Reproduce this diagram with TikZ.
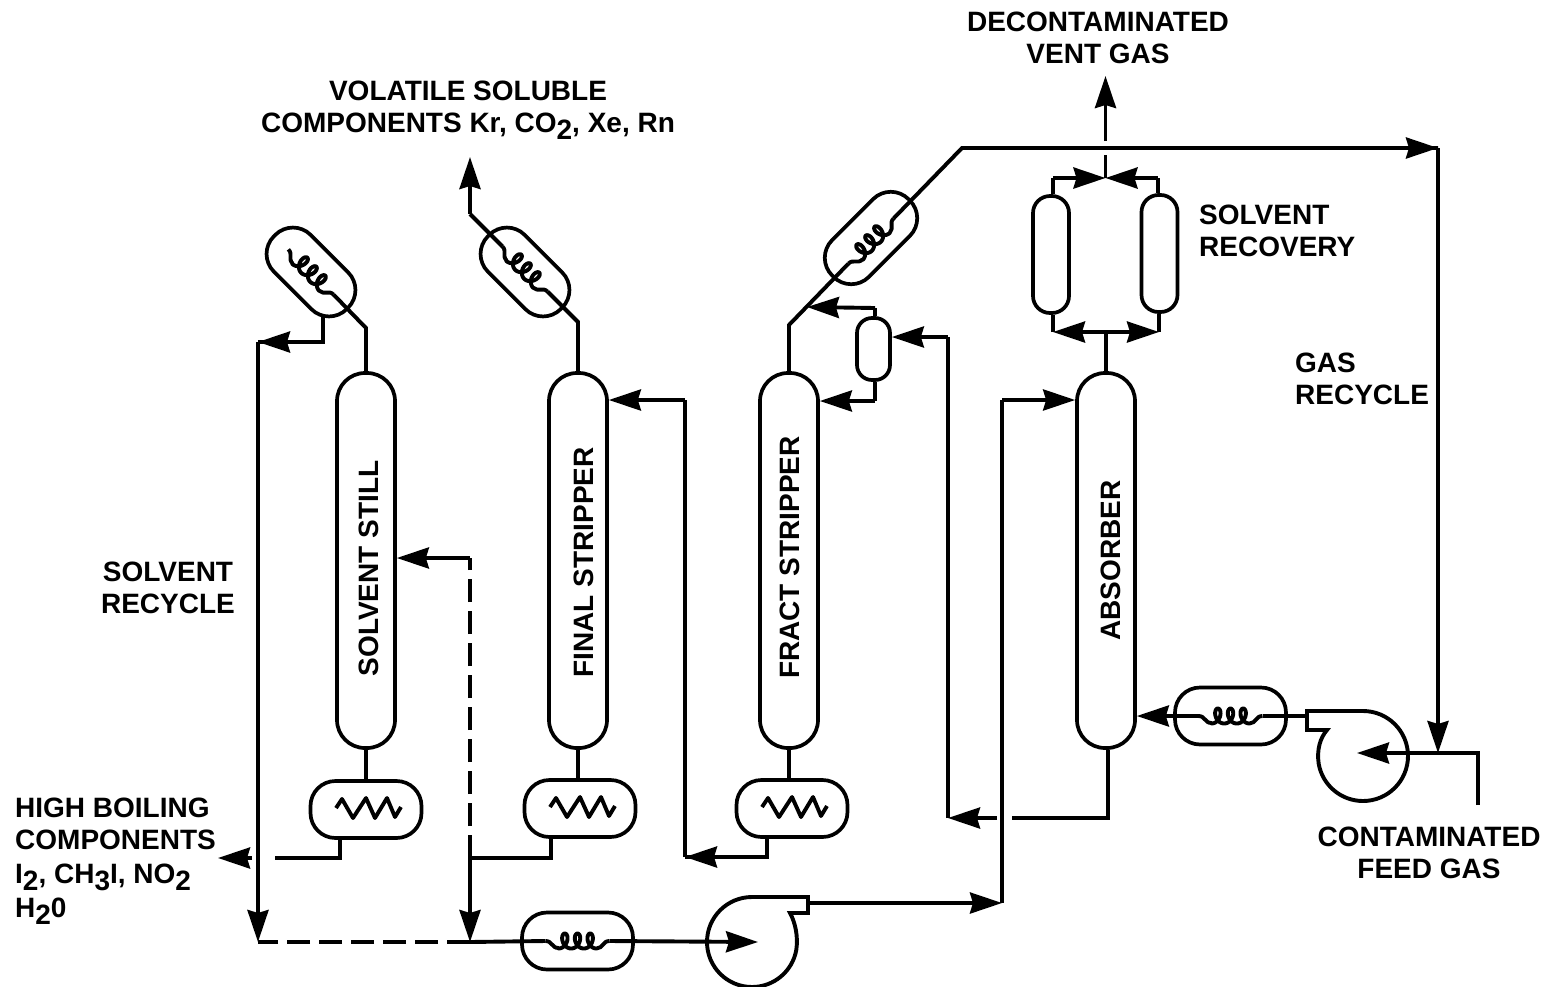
\documentclass[tikz,border=0pt]{standalone}
\usepackage{fontspec}
\setmainfont{Liberation Sans}
\usetikzlibrary{arrows.meta}
\newcommand{\lowd}[1]{\raisebox{-7pt}{#1}}
\newcommand{\collab}[3]{\hspace*{#1}\raisebox{\dimexpr#2-0.5\height\relax}[0pt][0pt]{\rotatebox{90}{#3}}}
\tikzset{
  pipe/.style={line width=3.9pt,line join=miter,miter limit=4},
  flow/.style={pipe,-{Stealth[length=32pt,width=21pt,inset=3pt]}},
  dashpipe/.style={pipe,dash pattern=on 23pt off 9pt},
  vessel/.style={draw,line width=3.7pt,inner sep=0pt,rectangle},
  column/.style={vessel,minimum width=58pt,minimum height=375pt,rounded corners=28pt},
  drum/.style={vessel,minimum width=36pt,minimum height=117pt,rounded corners=17pt},
  exch/.style={vessel,minimum width=111pt,minimum height=57pt,rounded corners=25pt},
  cond/.style={vessel,minimum width=103pt,minimum height=52pt,rounded corners=25pt},
  lab/.style={font=\fontsize{28}{32}\selectfont\bfseries,inner sep=0pt,align=center},
  collabel/.style={font=\fontsize{28}{32}\selectfont\bfseries},
  coilpic/.pic={
    \coordinate (-in) at (-32,0);
    \coordinate (-out) at (32,0);
    \draw[pipe,line join=round] (-32,0) .. controls (-25,0) and (-26,7) .. (-19,7)
      -- plot[domain=0:1080,samples=145] ({\x/360*12.67-19+5.5*sin(\x)},{0+7.5*cos(\x)})
      .. controls (26,7) and (25,0) .. (32,0);
  },
  zigpic/.pic={
    \draw[pipe,line join=round] (-30,-1) -- (-24,-10) -- (-13,9) -- (0,-11) -- (9,9) -- (21,-11) -- (29,8) -- (35,-2);
  }
}
\begin{document}
\begin{tikzpicture}[x=1pt,y=-1pt]
\useasboundingbox (0,0) rectangle (1559,986);

% columns
\node[column,collabel] (ss) at (366,560.5) {\collab{6pt}{-8pt}{SOLVENT STILL}};
\node[column,collabel] (fs) at (578,560.5) {\collab{12pt}{-2pt}{FINAL STRIPPER}};
\node[column,collabel] (fr) at (789,560.5) {\collab{2pt}{3pt}{FRACT STRIPPER}};
\node[column,collabel] (ab) at (1106,560.5) {\collab{10pt}{0pt}{ABSORBER}};

% reboilers
\node[exch] (rs) at (366,809.5) {};
\node[exch] (rf) at (580,808.5) {};
\node[exch] (rr) at (792,808.5) {};
\pic at (366,809) {zigpic};
\pic at (580,808) {zigpic};
\pic at (792,808) {zigpic};

% condensers and drums
\node[cond,rotate=-45] (cs) at (311,272) {};
\node[cond,rotate=-45] (cf) at (525,272) {};
\node[cond,rotate=45,minimum width=108pt] (cr) at (871,238) {};
\pic (cscoil) at (311,272) [rotate=-45] {coilpic};
\pic (cfcoil) at (525,269) [rotate=-45] {coilpic};
\pic (crcoil) at (871,241) [rotate=45] {coilpic};
\node[drum,minimum width=33pt,minimum height=62pt,rounded corners=15pt] (dr) at (873.5,349) {};
\node[drum] (dl) at (1051,254.5) {};
\node[drum] (dh) at (1159.5,253.5) {};

% coolers
\node[exch] (cb) at (577.5,941) {};
\node[exch] (cg) at (1230.5,716) {};
\pic (cbcoil) at (577.5,941) {coilpic};
\pic (cgcoil) at (1230.5,716) {coilpic};

% blowers
\draw[pipe] (1363,711) arc[start angle=90,end angle=-170,radius=45pt]
  .. controls +(-2,-14) and (1320,738) .. (1327,730) -- (1307,730) -- (1307,711) -- cycle;
\draw[pipe] (752,897) arc[start angle=90,end angle=350,radius=45pt]
  .. controls +(2,-14) and (795,922) .. (790,913) -- (808,913) -- (808,897) -- cycle;
\coordinate (bgin) at (1357,753);
\coordinate (bgout) at (1307,716);
\coordinate (bbin) at (758,942);
\coordinate (bbout) at (808,903);

% junctions
\coordinate (a1) at (366,328);
\coordinate (a2) at (578,322);
\coordinate (a3) at (470,214);
\coordinate (a4) at (470,157);
\coordinate (a5) at (789,325);
\coordinate (a6) at (962,148);
\coordinate (a7) at (1438,148);
\coordinate (a8) at (1438,753);
\coordinate (a9) at (1478,753);
\coordinate (a10) at (1478,805);
\coordinate (b1) at (323,314.5);
\coordinate (b2) at (323,342);
\coordinate (b3) at (258,342);
\coordinate (b4) at (258,942);
\coordinate (b5) at (470,942);
\coordinate (d1) at (551,837);
\coordinate (d2) at (551,858);
\coordinate (d3) at (470,858);
\coordinate (d4) at (470,558);
\coordinate (d5) at (340,838);
\coordinate (d6) at (340,858);
\coordinate (d7) at (275,858);
\coordinate (d8) at (252,858);
\coordinate (d9) at (218,858);
\coordinate (e1) at (767,837);
\coordinate (e2) at (767,857);
\coordinate (e3) at (685,857);
\coordinate (e4) at (685,400);
\coordinate (f1) at (1002,903);
\coordinate (f2) at (1002,400);
\coordinate (g1) at (1108,818);
\coordinate (g2) at (1012,818);
\coordinate (g3) at (997,818);
\coordinate (g4) at (948,818);
\coordinate (g5) at (948,337);
\coordinate (h1) at (875,308);
\coordinate (h2) at (875,401);
\coordinate (h3) at (807,307);
\coordinate (k1) at (1106,332);
\coordinate (k2) at (1053,332);
\coordinate (k3) at (1159,332);
\coordinate (k4) at (1053,178);
\coordinate (k5) at (1158,178);
\coordinate (k6) at (1105.5,178);
\coordinate (k7) at (1105.5,155);
\coordinate (k8) at (1105.5,141);
\coordinate (k9) at (1105.5,76);

% solvent still overhead
\draw[pipe] (ss.north) -- (a1) -- (cscoil-out);
\draw[pipe] (b1) -- (b2) -- (b3);
\draw[flow] (b2) -- (b3);
\draw[flow] (b3) -- (b4);
\draw[dashpipe] (b5) -- (b4);
% final stripper overhead
\draw[pipe] (fs.north) -- (a2) -- (cfcoil-out);
\draw[pipe] (cfcoil-in) -- (a3);
\draw[flow] (a3) -- (a4);
% fract stripper overhead and gas recycle
\draw[pipe] (fr.north) -- (a5) -- (crcoil-in);
\draw[pipe] (crcoil-out) -- (a6) -- (a7);
\draw[flow] (a6) -- (a7);
\draw[flow] (a7) -- (a8);
\draw[pipe] (a10) -- (a9) -- (a8);
\draw[flow] (a8) -- (bgin);
% gas to absorber
\draw[pipe] (bgout) -- (cgcoil-out);
\draw[flow] (cgcoil-in) -- (ab.east |- cg);
% reboiler legs
\draw[pipe] (ss.south) -- (rs.north);
\draw[pipe] (fs.south) -- (fs.south |- rf.north);
\draw[pipe] (fr.south) -- (fr.south |- rr.north);
\draw[pipe] (d5) -- (d6) -- (d7);
\draw[flow] (d8) -- (d9);
\draw[pipe] (d1) -- (d2) -- (d3);
\draw[flow] (d3) -- (b5);
\draw[dashpipe] (d3) -- (d4);
\draw[flow] (d4) -- (ss.east |- d4);
\draw[pipe] (e1) -- (e2) -- (e3);
\draw[flow] (e2) -- (e3);
\draw[pipe] (e3) -- (e4);
\draw[flow] (e4) -- (fs.east |- e4);
% solvent loop
\draw[pipe] (b5) -- (cbcoil-in);
\draw[flow] (cbcoil-out) -- (bbin);
\draw[flow] (bbout) -- (f1);
\draw[pipe] (f1) -- (f2);
\draw[flow] (f2) -- (ab.west |- f2);
% absorber bottoms
\draw[pipe] (g1 |- ab.south) -- (g1) -- (g2);
\draw[flow] (g3) -- (g4);
\draw[pipe] (g4) -- (g5);
\draw[flow] (g5) -- (dr.east |- g5);
% fract stripper side drum
\draw[pipe] (dr.north -| h1) -- (h1);
\draw[flow] (h1) -- (h3);
\draw[pipe] (dr.south -| h2) -- (h2);
\draw[flow] (h2) -- (fr.east |- h2);
% solvent recovery
\draw[pipe] (ab.north) -- (k1);
\draw[flow] (k1) -- (k2);
\draw[flow] (k1) -- (k3);
\draw[pipe] (k2) -- (dl.south -| k2);
\draw[pipe] (k3) -- (dh.south -| k3);
\draw[pipe] (dl.north -| k4) -- (k4);
\draw[flow] (k4) -- (k6);
\draw[pipe] (dh.north -| k5) -- (k5);
\draw[flow] (k5) -- (k6);
\draw[pipe] (k6) -- (k7);
\draw[flow] (k8) -- (k9);

% labels
\node[lab] (t1) at (1098,38) {DECONTAMINATED\\VENT GAS};
\node[lab] (t2) at (468,110) {VOLATILE SOLUBLE\\COMPONENTS Kr, CO\lowd{2}, Xe, Rn};
\node[lab,align=left,anchor=west] (t3) at (1199,231) {SOLVENT\\RECOVERY};
\node[lab,align=left,anchor=west] (t4) at (1295,379) {GAS\\RECYCLE};
\node[lab] (t5) at (168,588) {SOLVENT\\RECYCLE};
\node[lab,align=left,anchor=west] (t6) at (15,861) {HIGH BOILING\\COMPONENTS\\[2pt]I\lowd{2}, CH\lowd{3}I, NO\lowd{2}\\[2pt]H\lowd{2}0};
\node[lab] (t7) at (1429,853) {CONTAMINATED\\FEED GAS};
\end{tikzpicture}
\end{document}
